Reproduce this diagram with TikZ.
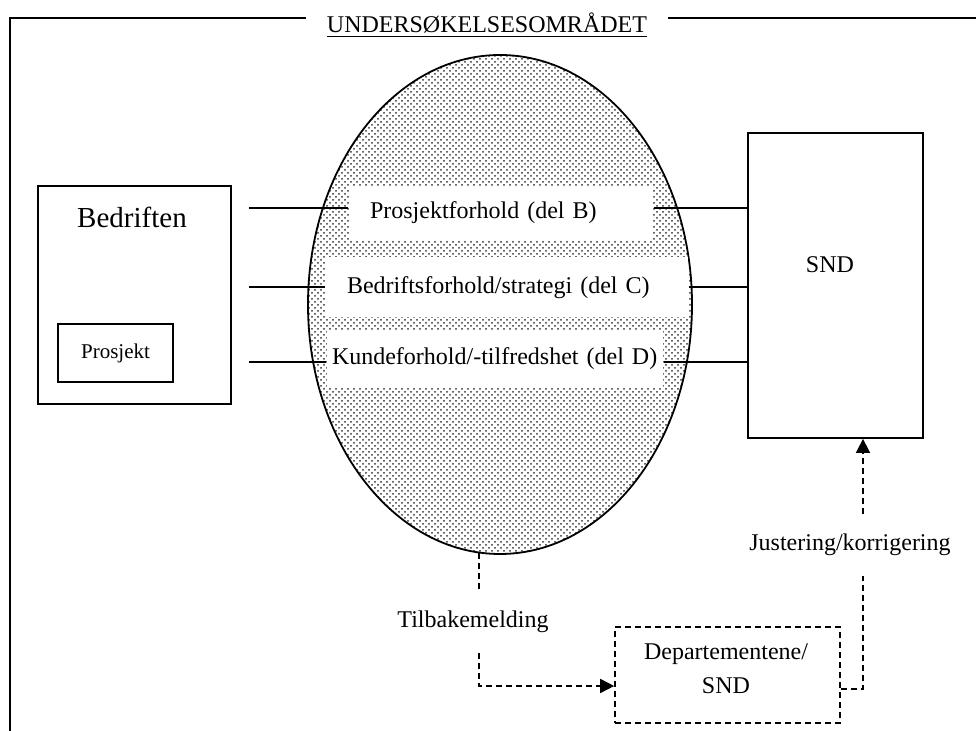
\documentclass[tikz,border=0pt]{standalone}
\usepackage{fontspec}
\setmainfont{Liberation Serif}
\usetikzlibrary{arrows.meta,patterns,shapes.geometric}

\begin{document}
\begin{tikzpicture}[
    >={Triangle[length=7pt,width=7pt]},
    x=0.5pt,
    y=-0.5pt,
    line width=0.9pt,
    font=\fontsize{12}{14}\selectfont,
    box/.style={draw, line width=0.9pt, inner sep=0pt},
    band/.style={fill=white, inner ysep=0pt, align=left},
    note/.style={minimum height=30.5pt, inner sep=0pt},
    flow/.style={dash pattern=on 3pt off 2pt, line width=0.8pt}
]

% page size
\useasboundingbox (0,0) rectangle (976,731);

% ---------------- Frame and title ----------------
\node[anchor=base, inner xsep=10pt] (title) at (487,33) {\underline{UNDERSØKELSESOMRÅDET}};
\coordinate (tl) at (10,18);
\draw (10,731) -- (tl) -- (tl -| title.west);
\draw (tl -| title.east) -- (976,18);

% ---------------- Survey area ----------------
\node[ellipse, draw, inner sep=0pt, pattern=crosshatch dots, pattern color=black!80,
      minimum width=192pt, minimum height=249.5pt] (area) at (500,304.5) {};

\node[band, inner xsep=10.5pt, text width=131pt, minimum height=27pt] (b1) at (501,213)
    {Prosjektforhold (del B)};
\node[band, inner xsep=10.5pt, text width=160pt, minimum height=30pt] (b2) at (507,287.5)
    {Bedriftsforhold/strategi (del C)};
\node[band, inner xsep=2.5pt, text width=163pt, minimum height=29pt] (b3) at (495,359)
    {Kundeforhold/-tilfredshet (del D)};

% ---------------- Company ----------------
\node[box, minimum width=96.5pt, minimum height=109pt] (firm) at (134.5,295) {};
\node[font=\fontsize{14.5}{17}\selectfont] (firmtxt) at (132,217) {Bedriften};
\node[box, minimum width=57.5pt, minimum height=29pt, font=\fontsize{10.5}{12}\selectfont]
    (proj) at (115.5,353) {Prosjekt};

% ---------------- SND ----------------
\node[box, minimum width=87.5pt, minimum height=152.5pt] (snd) at (835.5,285.5) {};
\node (sndtxt) at (830,265) {SND};

% links through the survey area
\foreach \b/\y in {b1/208, b2/287, b3/362}{
    \coordinate (l) at (249,\y);
    \draw (l) -- (l -| \b.west);
    \draw (l -| \b.east) -- (l -| snd.west);
}

% ---------------- Feedback loop ----------------
\node[box, flow, minimum width=112.5pt, minimum height=48pt] (dep) at (727.5,675) {};
\node[align=center, font=\fontsize{12}{17}\selectfont] (deptxt) at (726,669) {Departementene/\\SND};

\node[note] (fbtxt) at (473,622) {Tilbakemelding};
\node[note] (adjtxt) at (850,545) {Justering/korrigering};

\coordinate (fb) at (479,553);
\coordinate (fbc) at (479,686);
\draw[flow] (fb) -- (fb |- fbtxt.north);
\draw[flow, ->] (fb |- fbtxt.south) -- (fbc) -- (fbc -| dep.west);

\coordinate (adj) at (863,689);
\draw[flow] (adj -| dep.east) -- (adj) -- (adj |- adjtxt.south);
\draw[flow, ->] (adj |- adjtxt.north) -- (adj |- snd.south);

\end{tikzpicture}
\end{document}
